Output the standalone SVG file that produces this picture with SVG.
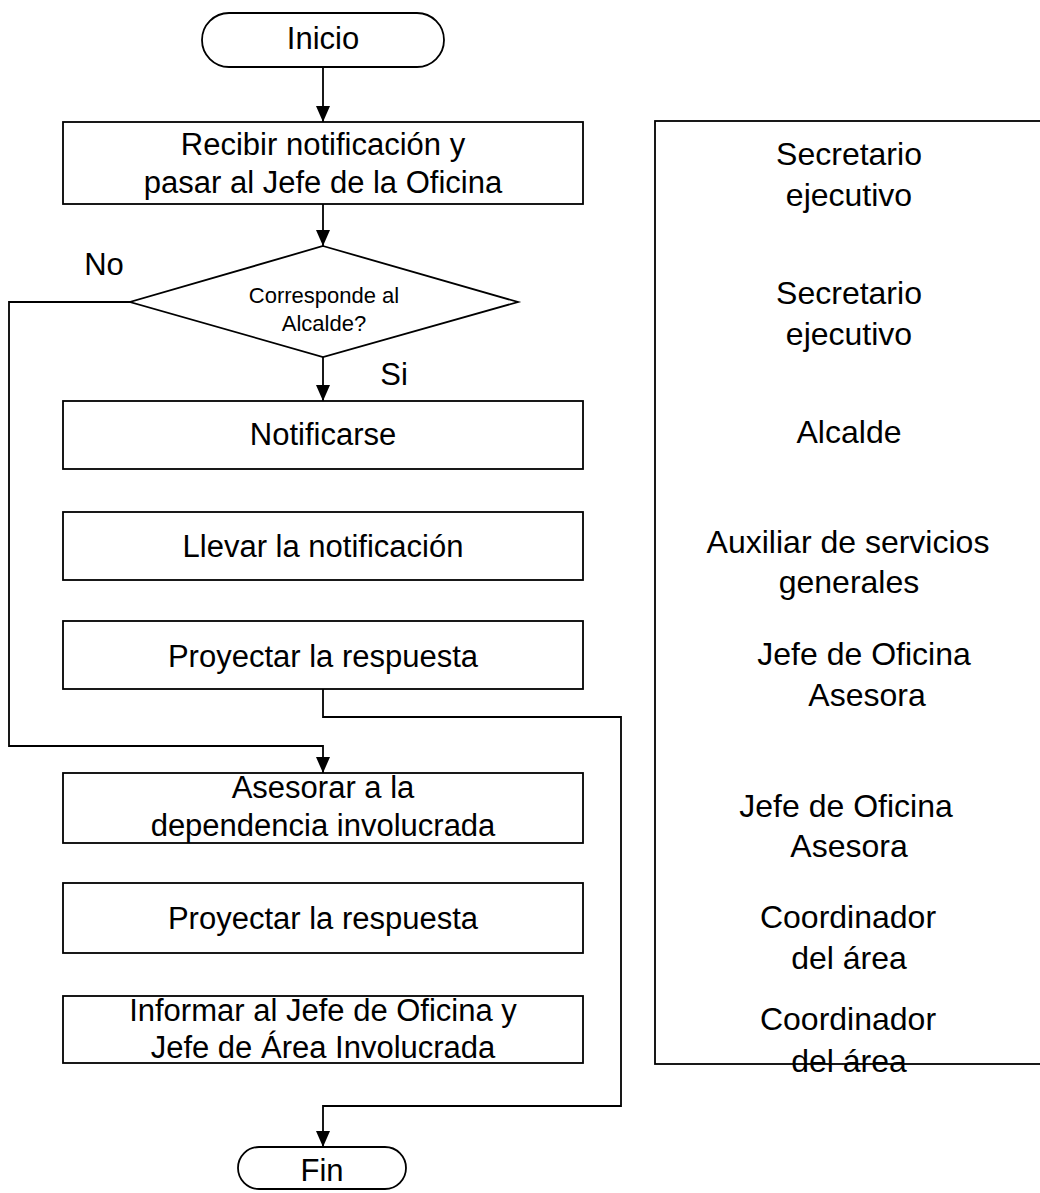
<svg xmlns="http://www.w3.org/2000/svg" width="1040" height="1193" viewBox="0 0 1040 1193">
<style>
  .shape { fill: #ffffff; stroke: #000000; stroke-width: 1.8; }
  .lane { fill: none; stroke: #000000; stroke-width: 1.8; }
  .conn { fill: none; stroke: #000000; stroke-width: 1.8; }
  .t { font-family: "Liberation Sans", Arial, sans-serif; font-size: 31px; fill: #000000; text-anchor: middle; }
  .ts { font-family: "Liberation Sans", Arial, sans-serif; font-size: 22px; fill: #000000; text-anchor: middle; }
  .tr { font-family: "Liberation Sans", Arial, sans-serif; font-size: 32px; fill: #000000; text-anchor: middle; }
</style>
<defs>
  <marker id="arr" viewBox="0 0 16 14" markerWidth="16" markerHeight="14" refX="16" refY="7" orient="auto" markerUnits="userSpaceOnUse">
    <path d="M0,0 L16,7 L0,14 z" fill="#000000"/>
  </marker>
</defs>

<g id="connectors">
  <path class="conn" d="M323,67 V122" marker-end="url(#arr)"/>
  <path class="conn" d="M323,204 V246" marker-end="url(#arr)"/>
  <path class="conn" d="M323,357 V401" marker-end="url(#arr)"/>
  <path class="conn" d="M130,302 H9 V746 H323 V773" marker-end="url(#arr)"/>
  <path class="conn" d="M323,689 V717 H621 V1106 H323 V1147" marker-end="url(#arr)"/>
</g>

<g id="inicio">
  <rect class="shape" x="202" y="13" width="242" height="54" rx="27"/>
  <text class="t" x="323" y="49">Inicio</text>
</g>

<g id="recibir">
  <rect class="shape" x="63" y="122" width="520" height="82"/>
  <text class="t" x="323" y="155">Recibir notificación y</text>
  <text class="t" x="323" y="193">pasar al Jefe de la Oficina</text>
</g>

<g id="decision">
  <polygon class="shape" points="323,246 518,302 323,357 130,302"/>
  <text class="ts" x="324" y="303">Corresponde al</text>
  <text class="ts" x="324" y="331">Alcalde?</text>
</g>

<g id="label-no">
  <text class="t" x="104" y="275">No</text>
</g>
<g id="label-si">
  <text class="t" x="394" y="385">Si</text>
</g>

<g id="notificarse">
  <rect class="shape" x="63" y="401" width="520" height="68"/>
  <text class="t" x="323" y="445">Notificarse</text>
</g>

<g id="llevar">
  <rect class="shape" x="63" y="512" width="520" height="68"/>
  <text class="t" x="323" y="557">Llevar la notificación</text>
</g>

<g id="proyectar1">
  <rect class="shape" x="63" y="621" width="520" height="68"/>
  <text class="t" x="323" y="667">Proyectar la respuesta</text>
</g>

<g id="asesorar">
  <rect class="shape" x="63" y="773" width="520" height="70"/>
  <text class="t" x="323" y="798">Asesorar a la</text>
  <text class="t" x="323" y="836">dependencia involucrada</text>
</g>

<g id="proyectar2">
  <rect class="shape" x="63" y="883" width="520" height="70"/>
  <text class="t" x="323" y="929">Proyectar la respuesta</text>
</g>

<g id="informar">
  <rect class="shape" x="63" y="996" width="520" height="67"/>
  <text class="t" x="323" y="1021">Informar al Jefe de Oficina y</text>
  <text class="t" x="323" y="1058">Jefe de Área Involucrada</text>
</g>

<g id="fin">
  <rect class="shape" x="238" y="1147" width="168" height="42" rx="21"/>
  <text class="t" x="322" y="1181">Fin</text>
</g>

<g id="responsables">
  <rect class="lane" x="655" y="121" width="400" height="943"/>
  <text class="tr" x="849" y="165">Secretario</text>
  <text class="tr" x="849" y="206">ejecutivo</text>
  <text class="tr" x="849" y="304">Secretario</text>
  <text class="tr" x="849" y="345">ejecutivo</text>
  <text class="tr" x="849" y="443">Alcalde</text>
  <text class="tr" x="848" y="553">Auxiliar de servicios</text>
  <text class="tr" x="849" y="593">generales</text>
  <text class="tr" x="864" y="665">Jefe de Oficina</text>
  <text class="tr" x="867" y="706">Asesora</text>
  <text class="tr" x="846" y="817">Jefe de Oficina</text>
  <text class="tr" x="849" y="857">Asesora</text>
  <text class="tr" x="848" y="928">Coordinador</text>
  <text class="tr" x="849" y="969">del área</text>
  <text class="tr" x="848" y="1030">Coordinador</text>
  <text class="tr" x="849" y="1072">del área</text>
</g>
</svg>
